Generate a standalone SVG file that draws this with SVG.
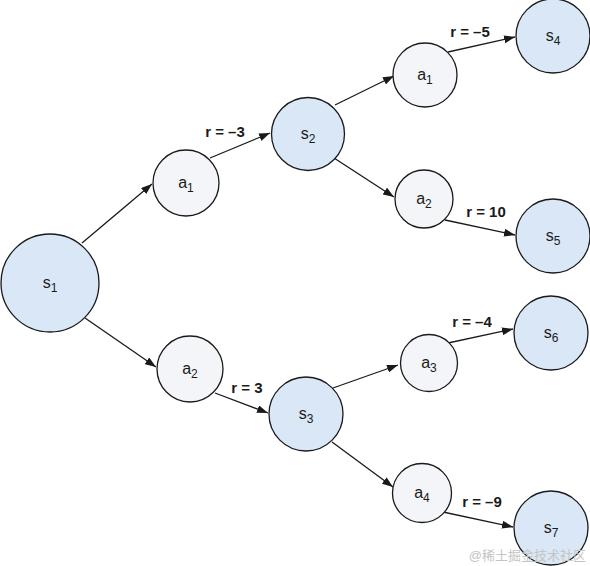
<svg xmlns="http://www.w3.org/2000/svg" width="590" height="566" viewBox="0 0 590 566">
<style>
.st{fill:#dae7f6;stroke:#1a1a1a;stroke-width:1.3}
.ac{fill:#f3f5f8;stroke:#1a1a1a;stroke-width:1.3}
.lb{font-family:"Liberation Sans",Arial,sans-serif;font-size:16px;fill:#1a1a1a;text-anchor:middle}
.sub{font-size:12px}
.rw{font-family:"Liberation Sans",Arial,sans-serif;font-size:15px;font-weight:bold;fill:#1a1a1a;text-anchor:middle}
.ed{stroke:#1a1a1a;stroke-width:1.3;fill:none;marker-end:url(#ah)}
</style>
<defs>
<marker id="ah" markerWidth="11" markerHeight="8" refX="11" refY="4" orient="auto" markerUnits="userSpaceOnUse">
<path d="M0,0 L11,4 L0,8 Z" fill="#1a1a1a"/>
</marker>
</defs>
<rect width="590" height="566" fill="#ffffff"/>
<g id="connectors">
<line class="ed" x1="82" y1="243" x2="152" y2="184"/>
<line class="ed" x1="85" y1="318" x2="156" y2="367"/>
<line class="ed" x1="210" y1="158" x2="270" y2="133"/>
<line class="ed" x1="215" y1="393" x2="268" y2="413"/>
<line class="ed" x1="335" y1="105" x2="394" y2="76"/>
<line class="ed" x1="334" y1="158" x2="394" y2="197"/>
<line class="ed" x1="333" y1="388" x2="398" y2="365"/>
<line class="ed" x1="332" y1="442" x2="393" y2="487"/>
<line class="ed" x1="448" y1="52" x2="515" y2="37"/>
<line class="ed" x1="445" y1="220" x2="515" y2="235"/>
<line class="ed" x1="448" y1="343" x2="513" y2="329"/>
<line class="ed" x1="443" y1="512" x2="513" y2="527"/>
<text class="rw" x="225" y="137">r = –3</text>
<text class="rw" x="247" y="393">r = 3</text>
<text class="rw" x="470" y="37">r = –5</text>
<text class="rw" x="486" y="217">r = 10</text>
<text class="rw" x="472" y="327">r = –4</text>
<text class="rw" x="482" y="507">r = –9</text>
</g>
<g id="s1"><circle class="st" cx="50" cy="283" r="49"/><text class="lb" x="50" y="288">s<tspan class="sub" dy="4">1</tspan></text></g>
<g id="a1"><circle class="ac" cx="186" cy="183" r="33"/><text class="lb" x="186" y="188">a<tspan class="sub" dy="4">1</tspan></text></g>
<g id="a2"><circle class="ac" cx="190" cy="369" r="33"/><text class="lb" x="190" y="374">a<tspan class="sub" dy="4">2</tspan></text></g>
<g id="s2"><circle class="st" cx="308" cy="134" r="36.5"/><text class="lb" x="308" y="139">s<tspan class="sub" dy="4">2</tspan></text></g>
<g id="s3"><circle class="st" cx="306" cy="414" r="37"/><text class="lb" x="306" y="419">s<tspan class="sub" dy="4">3</tspan></text></g>
<g id="a1b"><circle class="ac" cx="425" cy="75" r="32"/><text class="lb" x="425" y="80">a<tspan class="sub" dy="4">1</tspan></text></g>
<g id="a2b"><circle class="ac" cx="424" cy="199" r="29"/><text class="lb" x="424" y="204">a<tspan class="sub" dy="4">2</tspan></text></g>
<g id="a3"><circle class="ac" cx="429" cy="363" r="28.5"/><text class="lb" x="429" y="368">a<tspan class="sub" dy="4">3</tspan></text></g>
<g id="a4"><circle class="ac" cx="422" cy="493" r="29.5"/><text class="lb" x="422" y="498">a<tspan class="sub" dy="4">4</tspan></text></g>
<g id="s4"><circle class="st" cx="553" cy="36" r="37"/><text class="lb" x="553" y="41">s<tspan class="sub" dy="4">4</tspan></text></g>
<g id="s5"><circle class="st" cx="553" cy="236" r="37"/><text class="lb" x="553" y="241">s<tspan class="sub" dy="4">5</tspan></text></g>
<g id="s6"><circle class="st" cx="551" cy="333" r="37"/><text class="lb" x="551" y="338">s<tspan class="sub" dy="4">6</tspan></text></g>
<g id="s7"><circle class="st" cx="551" cy="528" r="37"/><text class="lb" x="551" y="533">s<tspan class="sub" dy="4">7</tspan></text></g>
<text x="586" y="560" font-family="'Liberation Sans','Noto Sans CJK SC',sans-serif" font-size="13" fill="#c4c4c4" text-anchor="end">@稀土掘金技术社区</text>
</svg>
